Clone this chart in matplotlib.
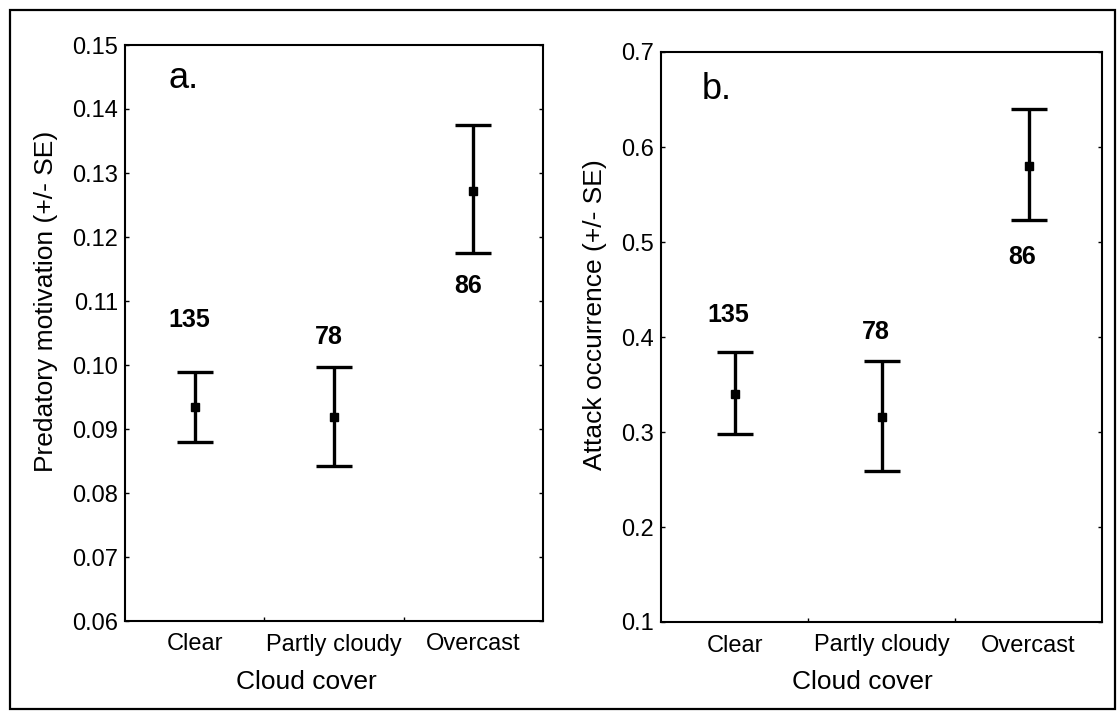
import matplotlib
matplotlib.use("Agg")
import matplotlib.pyplot as plt
from matplotlib.patches import Rectangle

plt.rcParams['font.family'] = ['Liberation Sans', 'DejaVu Sans']

categories = ["Clear", "Partly cloudy", "Overcast"]
sample_sizes = ["135", "78", "86"]

# Panel a: predatory motivation
motiv_mean = [0.0934, 0.0919, 0.1272]
motiv_low = [0.0880, 0.0842, 0.1175]
motiv_high = [0.0989, 0.0997, 0.1375]
motiv_label_y = [0.1070, 0.1044, 0.1123]
motiv_ticks = [0.06, 0.07, 0.08, 0.09, 0.10, 0.11, 0.12, 0.13, 0.14, 0.15]

# Panel b: attack occurrence
attack_mean = [0.340, 0.316, 0.580]
attack_low = [0.298, 0.259, 0.523]
attack_high = [0.384, 0.375, 0.640]
attack_label_y = [0.423, 0.405, 0.484]
attack_ticks = [0.1, 0.2, 0.3, 0.4, 0.5, 0.6, 0.7]

W, H = 1120, 711
fig = plt.figure(figsize=(W / 100, H / 100), dpi=100)

# outer frame around the whole figure
fig.patches.append(Rectangle((10 / W, 2 / H), 1105 / W, 699 / H, transform=fig.transFigure,
                             fill=False, edgecolor='black', linewidth=1.6))

ax_a = fig.add_axes([125 / W, 1 - 621 / H, 418 / W, 576 / H])
ax_b = fig.add_axes([661 / W, 1 - 622 / H, 441 / W, 570 / H])

xpos = [0.5, 1.5, 2.5]


def draw_panel(ax, mean, low, high, label_y, ticks, ylabel, letter, fmt,
               letter_xy, xlabel_x, ylabel_y):
    yerr = [[m - l for m, l in zip(mean, low)], [h - m for m, h in zip(mean, high)]]
    ax.errorbar(xpos, mean, yerr=yerr, fmt='s', color='black', ms=5.5,
                elinewidth=2.4, capsize=13, capthick=2.4)
    for x, y, n in zip(xpos, label_y, sample_sizes):
        ax.text(x - 0.04, y, n, ha='center', va='center', fontsize=18, fontweight='bold')
    ax.set_xlim(0, 3)
    ax.set_ylim(ticks[0], ticks[-1])
    ax.set_yticks(ticks)
    ax.set_yticklabels([fmt.format(t) for t in ticks], fontsize=17)
    ax.set_xticks([1, 2])
    ax.set_xticklabels([])
    ax.set_xticks(xpos, minor=True)
    ax.set_xticklabels(categories, minor=True, fontsize=17)
    ax.tick_params(axis='x', which='minor', length=0, pad=9)
    ax.tick_params(axis='x', which='major', direction='in', length=3, width=1)
    ax.tick_params(axis='y', direction='in', length=3, width=1, right=True, pad=5)
    for s in ax.spines.values():
        s.set_linewidth(1.5)
    ax.set_xlabel("Cloud cover", fontsize=19, labelpad=7)
    ax.xaxis.set_label_coords(xlabel_x, -0.085)
    ax.set_ylabel(ylabel, fontsize=19, labelpad=10)
    ax.yaxis.label.set_y(ylabel_y)
    ax.text(letter_xy[0], letter_xy[1], letter, transform=ax.transAxes, fontsize=26,
            va='baseline', ha='left')


draw_panel(ax_a, motiv_mean, motiv_low, motiv_high, motiv_label_y, motiv_ticks,
           "Predatory motivation (+/- SE)", "a.", "{:.2f}", (0.105, 0.925), 0.433, 0.555)
draw_panel(ax_b, attack_mean, attack_low, attack_high, attack_label_y, attack_ticks,
           "Attack occurrence (+/- SE)", "b.", "{:.1f}", (0.093, 0.918), 0.456, 0.54)

fig.savefig("out.png", dpi=100)
